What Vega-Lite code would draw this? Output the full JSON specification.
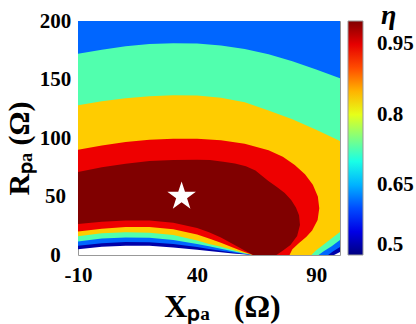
{
"$schema": "https://vega.github.io/schema/vega-lite/v6.json",
"width": 262, "height": 234,
"autosize": "none",
"padding": {"left": 78, "top": 21, "right": 76, "bottom": 69},
"background": "white",
"config": {"view": {"stroke": "#999", "strokeWidth": 1}, "font": "Liberation Serif"},
"datasets": {
"navy": [
{"i":0,"x":-10,"r":200,"eta":0.52},{"i":1,"x":100,"r":200,"eta":0.52},{"i":2,"x":100,"r":2.6,"eta":0.52},{"i":3,"x":97.5,"r":0,"eta":0.52},{"i":4,"x":63.5,"r":0,"eta":0.52},{"i":5,"x":59,"r":0.6,"eta":0.52},{"i":6,"x":55,"r":1.3,"eta":0.52},{"i":7,"x":50,"r":2.4,"eta":0.52},{"i":8,"x":45,"r":3.5,"eta":0.52},{"i":9,"x":40,"r":4.5,"eta":0.52},{"i":10,"x":30,"r":6.5,"eta":0.52},{"i":11,"x":20,"r":8,"eta":0.52},{"i":12,"x":10,"r":8,"eta":0.52},{"i":13,"x":0,"r":7,"eta":0.52},{"i":14,"x":-10,"r":5,"eta":0.52}
],
"blue": [
{"i":0,"x":-10,"r":200,"eta":0.6125},{"i":1,"x":100,"r":200,"eta":0.6125},{"i":2,"x":100,"r":6.8,"eta":0.6125},{"i":3,"x":97,"r":3,"eta":0.6125},{"i":4,"x":95,"r":0,"eta":0.6125},{"i":5,"x":63.5,"r":0,"eta":0.6125},{"i":6,"x":59,"r":1.0,"eta":0.6125},{"i":7,"x":55,"r":2.2,"eta":0.6125},{"i":8,"x":50,"r":3.7,"eta":0.6125},{"i":9,"x":45,"r":5.2,"eta":0.6125},{"i":10,"x":40,"r":6.8,"eta":0.6125},{"i":11,"x":30,"r":9.5,"eta":0.6125},{"i":12,"x":20,"r":11,"eta":0.6125},{"i":13,"x":10,"r":11.2,"eta":0.6125},{"i":14,"x":0,"r":10,"eta":0.6125},{"i":15,"x":-10,"r":8,"eta":0.6125}
],
"cyan": [
{"i":0,"x":-10,"r":172,"eta":0.727},{"i":1,"x":0,"r":175.5,"eta":0.727},{"i":2,"x":10,"r":178.5,"eta":0.727},{"i":3,"x":20,"r":180.3,"eta":0.727},{"i":4,"x":30,"r":181,"eta":0.727},{"i":5,"x":40,"r":180.7,"eta":0.727},{"i":6,"x":50,"r":179,"eta":0.727},{"i":7,"x":60,"r":176,"eta":0.727},{"i":8,"x":70,"r":171.5,"eta":0.727},{"i":9,"x":80,"r":165.5,"eta":0.727},{"i":10,"x":90,"r":158.5,"eta":0.727},{"i":11,"x":100,"r":151,"eta":0.727},{"i":12,"x":100,"r":12.8,"eta":0.727},{"i":13,"x":96.5,"r":7.5,"eta":0.727},{"i":14,"x":93,"r":3,"eta":0.727},{"i":15,"x":91,"r":0,"eta":0.727},{"i":16,"x":63.5,"r":0,"eta":0.727},{"i":17,"x":59,"r":1.6,"eta":0.727},{"i":18,"x":55,"r":3.2,"eta":0.727},{"i":19,"x":50,"r":5.3,"eta":0.727},{"i":20,"x":45,"r":7.5,"eta":0.727},{"i":21,"x":40,"r":9.5,"eta":0.727},{"i":22,"x":30,"r":12.8,"eta":0.727},{"i":23,"x":20,"r":14.7,"eta":0.727},{"i":24,"x":10,"r":15,"eta":0.727},{"i":25,"x":0,"r":14,"eta":0.727},{"i":26,"x":-10,"r":11.5,"eta":0.727}
],
"yellow": [
{"i":0,"x":-10,"r":128,"eta":0.8375},{"i":1,"x":0,"r":131.5,"eta":0.8375},{"i":2,"x":10,"r":134,"eta":0.8375},{"i":3,"x":20,"r":135.7,"eta":0.8375},{"i":4,"x":30,"r":136.5,"eta":0.8375},{"i":5,"x":40,"r":136.3,"eta":0.8375},{"i":6,"x":50,"r":134.5,"eta":0.8375},{"i":7,"x":60,"r":130.5,"eta":0.8375},{"i":8,"x":70,"r":123.5,"eta":0.8375},{"i":9,"x":80,"r":116,"eta":0.8375},{"i":10,"x":90,"r":107,"eta":0.8375},{"i":11,"x":100,"r":97.5,"eta":0.8375},{"i":12,"x":100,"r":19.7,"eta":0.8375},{"i":13,"x":96,"r":13.5,"eta":0.8375},{"i":14,"x":92.5,"r":8,"eta":0.8375},{"i":15,"x":90,"r":4,"eta":0.8375},{"i":16,"x":88,"r":0,"eta":0.8375},{"i":17,"x":63.5,"r":0,"eta":0.8375},{"i":18,"x":59,"r":2.2,"eta":0.8375},{"i":19,"x":55,"r":4.3,"eta":0.8375},{"i":20,"x":50,"r":7,"eta":0.8375},{"i":21,"x":45,"r":9.5,"eta":0.8375},{"i":22,"x":40,"r":12.5,"eta":0.8375},{"i":23,"x":30,"r":17,"eta":0.8375},{"i":24,"x":20,"r":19,"eta":0.8375},{"i":25,"x":10,"r":19.5,"eta":0.8375},{"i":26,"x":0,"r":18.5,"eta":0.8375},{"i":27,"x":-10,"r":16,"eta":0.8375}
],
"red": [
{"i":0,"x":-10,"r":90,"eta":0.946},{"i":1,"x":0,"r":93.5,"eta":0.946},{"i":2,"x":10,"r":96.5,"eta":0.946},{"i":3,"x":20,"r":98.5,"eta":0.946},{"i":4,"x":30,"r":99.3,"eta":0.946},{"i":5,"x":40,"r":99.3,"eta":0.946},{"i":6,"x":50,"r":98,"eta":0.946},{"i":7,"x":60,"r":95,"eta":0.946},{"i":8,"x":70,"r":89.5,"eta":0.946},{"i":9,"x":76,"r":84,"eta":0.946},{"i":10,"x":81,"r":77,"eta":0.946},{"i":11,"x":85.3,"r":69,"eta":0.946},{"i":12,"x":88.6,"r":60,"eta":0.946},{"i":13,"x":90.7,"r":50,"eta":0.946},{"i":14,"x":91.3,"r":40,"eta":0.946},{"i":15,"x":90.6,"r":30,"eta":0.946},{"i":16,"x":88.3,"r":21,"eta":0.946},{"i":17,"x":85.8,"r":15.4,"eta":0.946},{"i":18,"x":82.7,"r":10,"eta":0.946},{"i":19,"x":80,"r":5,"eta":0.946},{"i":20,"x":78.8,"r":0,"eta":0.946},{"i":21,"x":63.5,"r":0,"eta":0.946},{"i":22,"x":59,"r":3.3,"eta":0.946},{"i":23,"x":55,"r":6.5,"eta":0.946},{"i":24,"x":50,"r":10.5,"eta":0.946},{"i":25,"x":45,"r":14,"eta":0.946},{"i":26,"x":40,"r":17.5,"eta":0.946},{"i":27,"x":30,"r":22,"eta":0.946},{"i":28,"x":20,"r":24,"eta":0.946},{"i":29,"x":10,"r":24,"eta":0.946},{"i":30,"x":0,"r":22.5,"eta":0.946},{"i":31,"x":-10,"r":20,"eta":0.946}
],
"darkred": [
{"i":0,"x":-10,"r":71,"eta":1.0},{"i":1,"x":0,"r":75,"eta":1.0},{"i":2,"x":10,"r":78,"eta":1.0},{"i":3,"x":20,"r":80.3,"eta":1.0},{"i":4,"x":30,"r":81.3,"eta":1.0},{"i":5,"x":40,"r":81.4,"eta":1.0},{"i":6,"x":45.4,"r":81.1,"eta":1.0},{"i":7,"x":51,"r":79.8,"eta":1.0},{"i":8,"x":55.9,"r":78.3,"eta":1.0},{"i":9,"x":60.5,"r":75.8,"eta":1.0},{"i":10,"x":64.5,"r":72.3,"eta":1.0},{"i":11,"x":69.8,"r":63.5,"eta":1.0},{"i":12,"x":73.5,"r":58.2,"eta":1.0},{"i":13,"x":76.8,"r":53,"eta":1.0},{"i":14,"x":79.5,"r":47,"eta":1.0},{"i":15,"x":81.5,"r":40.5,"eta":1.0},{"i":16,"x":82.8,"r":34,"eta":1.0},{"i":17,"x":83.2,"r":25.6,"eta":1.0},{"i":18,"x":82,"r":16.2,"eta":1.0},{"i":19,"x":79.2,"r":8.5,"eta":1.0},{"i":20,"x":75.8,"r":3.4,"eta":1.0},{"i":21,"x":73.3,"r":0,"eta":1.0},{"i":22,"x":63.5,"r":0,"eta":1.0},{"i":23,"x":59,"r":5,"eta":1.0},{"i":24,"x":55,"r":9.5,"eta":1.0},{"i":25,"x":50,"r":15,"eta":1.0},{"i":26,"x":45,"r":19.5,"eta":1.0},{"i":27,"x":40,"r":23,"eta":1.0},{"i":28,"x":30,"r":27.5,"eta":1.0},{"i":29,"x":20,"r":29.5,"eta":1.0},{"i":30,"x":10,"r":29.5,"eta":1.0},{"i":31,"x":0,"r":28.5,"eta":1.0},{"i":32,"x":-10,"r":26.5,"eta":1.0}
],
"star": [{"x":33.5,"r":50}]
},
"encoding": {
"x": {"field": "x", "type": "quantitative",
 "scale": {"domain": [-10, 100], "nice": false, "zero": false},
 "axis": {"values": [-10, 40, 90], "labelExpr": "'' + datum.value", "title": "Xₚₐ\u00a0\u00a0\u00a0(Ω)", "ticks": false, "domain": false, "grid": false,
  "labelFont": "Liberation Serif", "labelFontSize": 21, "labelFontWeight": "bold", "labelColor": "black", "labelPadding": 9, "labelFlush": false,
  "titleFont": "Liberation Serif", "titleFontSize": 32, "titleFontWeight": "bold", "titleColor": "black",
  "titleX": 144, "titleY": 61, "titleBaseline": "alphabetic"}},
"y": {"field": "r", "type": "quantitative",
 "scale": {"domain": [0, 200], "nice": false},
 "axis": {"values": [0, 50, 100, 150, 200], "title": "Rₚₐ\u00a0(Ω)", "ticks": false, "domain": false, "grid": false,
  "labelFont": "Liberation Serif", "labelFontSize": 21, "labelFontWeight": "bold", "labelColor": "black", "labelPadding": 23, "labelAlign": "center", "labelFlush": false,
  "titleFont": "Liberation Serif", "titleFontSize": 30, "titleFontWeight": "bold", "titleColor": "black",
  "titleX": -50, "titleY": 127, "titleAngle": 270, "titleBaseline": "alphabetic"}},
"color": {"field": "eta", "type": "quantitative",
 "scale": {"domain": [0.5, 0.5625, 0.6875, 0.8125, 0.9375, 1.0], "range": ["#000080", "#0000ff", "#00ffff", "#ffff00", "#ff0000", "#800000"], "interpolate": "rgb"},
 "legend": {"orient": "none", "legendX": 270, "legendY": -19, "direction": "vertical",
  "gradientLength": 234, "gradientThickness": 15, "gradientStrokeColor": "#999", "gradientStrokeWidth": 1,
  "values": [0.5, 0.65, 0.8, 0.95], "format": ".2~f",
  "labelFont": "Liberation Serif", "labelFontWeight": "bold", "labelFontSize": 21, "labelColor": "black", "labelOffset": 14, "labelBaseline": "middle", "labelOverlap": false,
  "title": "η", "titleFont": "Liberation Serif", "titleFontSize": 28, "titleFontStyle": "italic", "titleFontWeight": "bold", "titleColor": "black", "titleAnchor": "middle", "titleAlign": "left", "titlePadding": -9}}
},
"layer": [
{"data": {"name": "navy"}, "mark": {"type": "line", "filled": true, "clip": true, "strokeWidth": 0}, "encoding": {"order": {"field": "i", "type": "quantitative"}}},
{"data": {"name": "blue"}, "mark": {"type": "line", "filled": true, "clip": true, "strokeWidth": 0}, "encoding": {"order": {"field": "i", "type": "quantitative"}}},
{"data": {"name": "cyan"}, "mark": {"type": "line", "filled": true, "clip": true, "strokeWidth": 0}, "encoding": {"order": {"field": "i", "type": "quantitative"}}},
{"data": {"name": "yellow"}, "mark": {"type": "line", "filled": true, "clip": true, "strokeWidth": 0}, "encoding": {"order": {"field": "i", "type": "quantitative"}}},
{"data": {"name": "red"}, "mark": {"type": "line", "filled": true, "clip": true, "strokeWidth": 0}, "encoding": {"order": {"field": "i", "type": "quantitative"}}},
{"data": {"name": "darkred"}, "mark": {"type": "line", "filled": true, "clip": true, "strokeWidth": 0}, "encoding": {"order": {"field": "i", "type": "quantitative"}}},
{"data": {"name": "star"}, "mark": {"type": "point", "shape": "M0,-1L0.225,-0.309L0.951,-0.309L0.363,0.118L0.588,0.809L0,0.382L-0.588,0.809L-0.363,0.118L-0.951,-0.309L-0.225,-0.309Z", "filled": true, "size": 900, "opacity": 1, "strokeWidth": 0}, "encoding": {"color": {"value": "white"}}}
]
}
